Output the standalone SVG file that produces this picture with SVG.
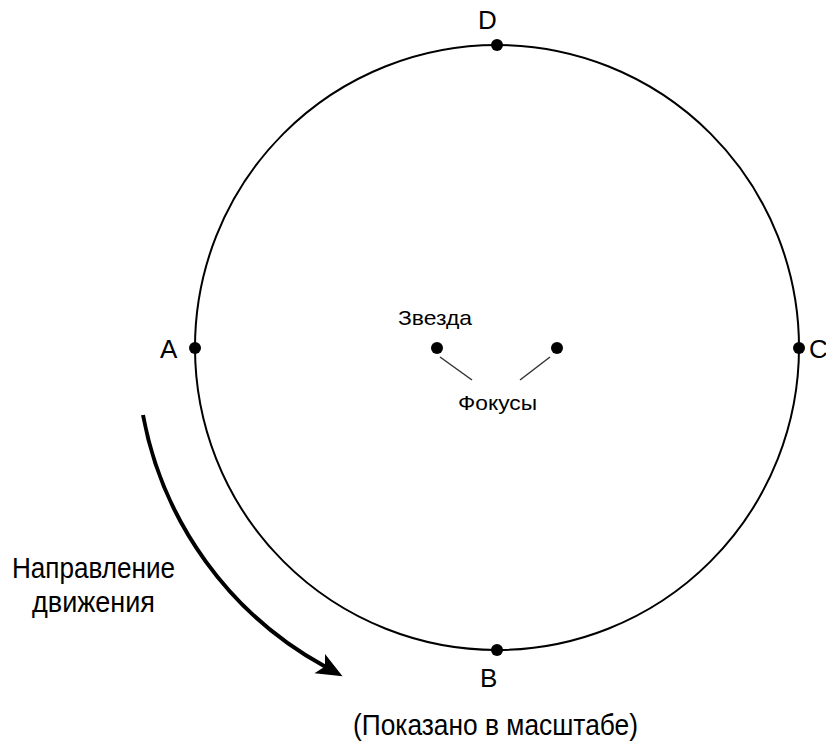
<svg xmlns="http://www.w3.org/2000/svg" width="826" height="745" viewBox="0 0 826 745">
  <defs>
    <marker id="head" viewBox="0 -12 28 24" refX="6" refY="0" markerWidth="28" markerHeight="24" markerUnits="userSpaceOnUse" orient="auto">
      <path d="M26,0 L0,-11 L6,0 L0,11 Z" fill="#000"/>
    </marker>
  </defs>
  <style>
    .orbit { fill: none; stroke: #000; stroke-width: 2; }
    .dot { fill: #000; }
    .pt { font-family: "Liberation Sans", Arial, sans-serif; font-size: 26px; fill: #000; }
    .lbl { font-family: "Liberation Sans", Arial, sans-serif; fill: #000; }
    .lead { stroke: #333; stroke-width: 1.5; fill: none; }
    .move { fill: none; stroke: #000; stroke-width: 4; }
  </style>
  <rect width="826" height="745" fill="#fff"/>

  <!-- orbit -->
  <g id="orbit">
    <ellipse class="orbit" cx="497" cy="347.5" rx="302" ry="302.5"/>
  </g>

  <!-- orbit points -->
  <g id="point-a">
    <circle class="dot" cx="195" cy="348" r="6"/>
    <text class="pt" x="160" y="358">A</text>
  </g>
  <g id="point-c">
    <circle class="dot" cx="799" cy="348" r="6"/>
    <text class="pt" x="809" y="358">C</text>
  </g>
  <g id="point-d">
    <circle class="dot" cx="497" cy="45" r="6"/>
    <text class="pt" x="478" y="29">D</text>
  </g>
  <g id="point-b">
    <circle class="dot" cx="497" cy="650" r="6"/>
    <text class="pt" x="480" y="687">B</text>
  </g>

  <!-- foci -->
  <g id="focus-star">
    <circle class="dot" cx="437" cy="348" r="6"/>
    <text class="lbl" x="398" y="325" font-size="21" textLength="74" lengthAdjust="spacingAndGlyphs">Звезда</text>
  </g>
  <g id="focus-empty">
    <circle class="dot" cx="557" cy="348" r="6"/>
  </g>
  <g id="foci-label">
    <text class="lbl" x="458" y="410" font-size="21" textLength="79" lengthAdjust="spacingAndGlyphs">Фокусы</text>
  </g>

  <!-- connectors -->
  <g id="connectors">
    <line class="lead" x1="440" y1="357" x2="472" y2="380"/>
    <line class="lead" x1="550" y1="357" x2="520" y2="380"/>
    <path class="move" d="M143,415 A362,362 0 0 0 325,666.6" marker-end="url(#head)"/>
  </g>

  <!-- direction label -->
  <g id="direction-label">
    <text class="lbl" x="12" y="578" font-size="30" textLength="163" lengthAdjust="spacingAndGlyphs">Направление</text>
    <text class="lbl" x="32" y="612" font-size="30" textLength="123" lengthAdjust="spacingAndGlyphs">движения</text>
  </g>

  <!-- caption -->
  <g id="caption">
    <text class="lbl" x="353" y="735" font-size="29" textLength="285" lengthAdjust="spacingAndGlyphs">(Показано в масштабе)</text>
  </g>
</svg>
